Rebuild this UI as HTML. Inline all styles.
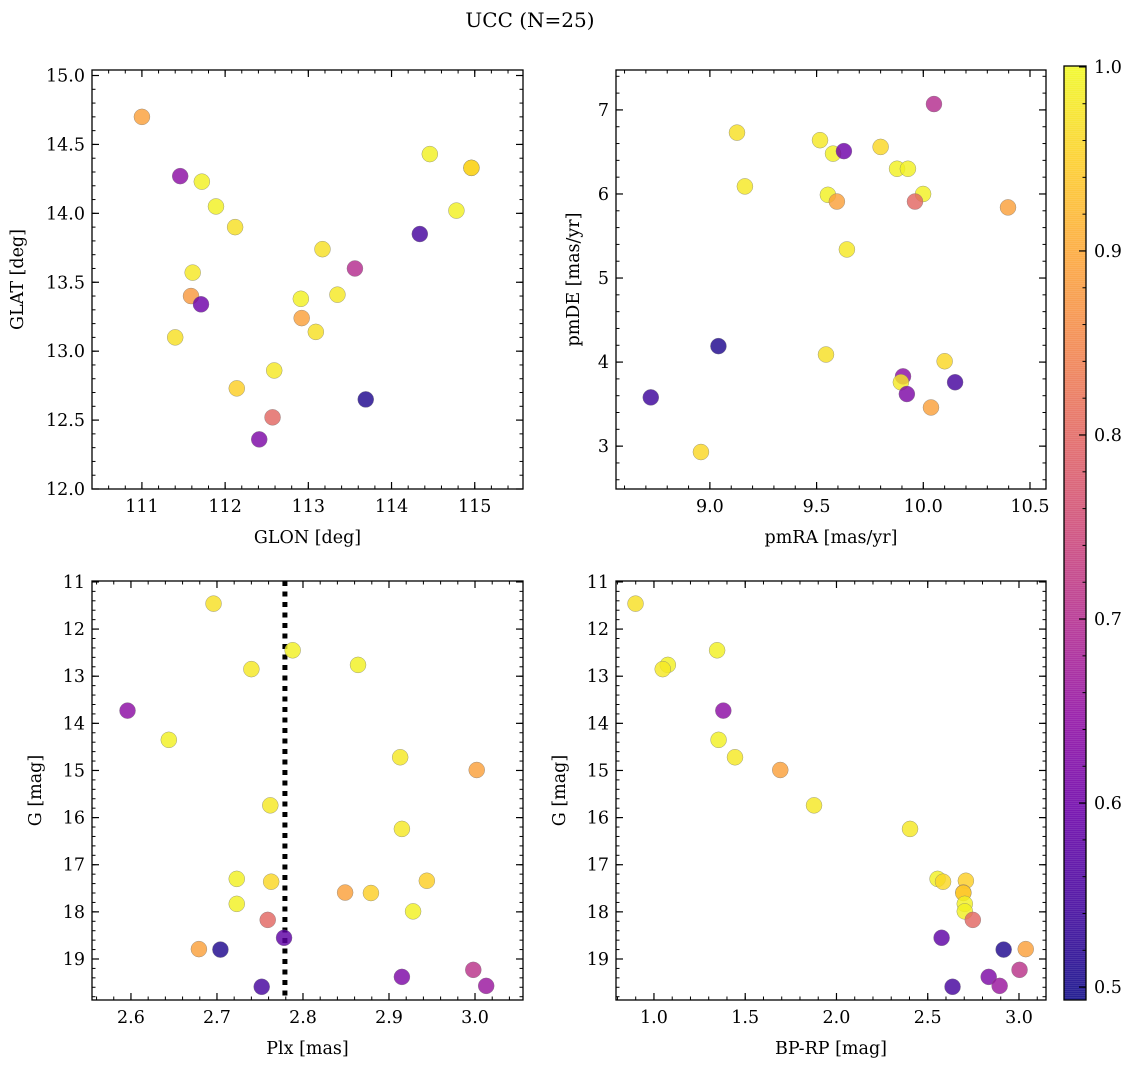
<!DOCTYPE html>
<html><head><meta charset="utf-8"><style>
body{margin:0;background:#fff;}
svg{display:block;font-family:"DejaVu Serif","Liberation Serif",serif;}
</style></head><body>
<svg id="chart" width="1136" height="1067" xmlns="http://www.w3.org/2000/svg">
<rect width="1136" height="1067" fill="#fff"/>
<text x="530" y="27" font-size="20" text-anchor="middle">UCC (N=25)</text>
</svg>
<script>
// Panel 1: GLON vs GLAT
const p1Glon=[111.0,111.46,111.72,111.89,112.12,113.17,113.56,111.61,111.59,111.71,112.91,113.35,112.92,113.09,111.40,112.59,112.14,112.57,112.41,113.69,114.34,114.46,114.96,114.96,114.78];
const p1Glat=[14.70,14.27,14.23,14.05,13.90,13.74,13.60,13.57,13.40,13.34,13.38,13.41,13.24,13.14,13.10,12.86,12.73,12.52,12.36,12.65,13.85,14.43,14.33,14.33,14.02];
const p1Prob=[.89,.64,.99,.99,.97,.97,.70,.98,.88,.60,.99,.98,.89,.97,.97,.98,.95,.80,.62,.51,.55,.99,.94,.96,.99];
// Panel 2: pmRA vs pmDE
const p2PmRA=[10.05,9.127,9.516,9.577,9.628,9.80,9.877,9.928,9.164,9.553,9.999,9.595,9.961,10.397,9.642,9.04,9.544,10.10,9.905,9.895,10.149,9.923,10.036,8.723,8.958];
const p2PmDE=[7.07,6.73,6.64,6.48,6.51,6.56,6.30,6.30,6.09,5.99,6.00,5.91,5.91,5.84,5.34,4.19,4.09,4.01,3.83,3.76,3.76,3.62,3.46,3.58,2.93];
const p2Prob=[.70,.97,.98,.99,.60,.96,.99,.99,.98,.99,.99,.89,.80,.89,.98,.51,.97,.96,.64,.98,.55,.62,.89,.54,.96];
// Panel 3: Plx vs G
const p3Plx=[2.696,2.788,2.740,2.864,2.596,2.644,2.913,3.002,2.762,2.915,2.723,2.763,2.944,2.849,2.879,2.723,2.928,2.759,2.778,2.679,2.704,2.752,2.915,2.998,3.013];
const p3G=[11.46,12.45,12.85,12.76,13.73,14.35,14.72,14.99,15.74,16.24,17.30,17.36,17.34,17.59,17.60,17.83,17.99,18.17,18.55,18.79,18.80,19.59,19.38,19.23,19.57];
const p3Prob=[.97,.99,.98,.99,.64,.99,.98,.89,.98,.98,.99,.96,.95,.89,.95,.99,.99,.80,.58,.89,.51,.55,.62,.71,.66];
const plxLine=[2.779];
// Panel 4: BP-RP vs G
const p4BpRp=[0.899,1.346,1.076,1.048,1.380,1.354,1.444,1.692,1.877,2.403,2.554,2.584,2.709,2.695,2.695,2.703,2.703,2.747,2.576,3.037,2.916,2.636,2.834,3.003,2.894];
const p4G=[11.46,12.45,12.76,12.85,13.73,14.35,14.72,14.99,15.74,16.24,17.30,17.36,17.34,17.59,17.60,17.83,17.99,18.17,18.55,18.79,18.80,19.59,19.38,19.23,19.57];
const p4Prob=[.97,.99,.99,.98,.64,.99,.98,.89,.98,.98,.99,.96,.95,.89,.95,.99,.99,.80,.58,.89,.51,.55,.62,.71,.66];
// Colorbar
const cbTicks=[0.5,0.6,0.7,0.8,0.9,1.0];
const cbMin=0.493, cbMax=1.0005;

const NS="http://www.w3.org/2000/svg";
const svg=document.getElementById('chart');
const TFS=17.5, LFS=17.5;
function mk(tag,attrs,parent){const e=document.createElementNS(NS,tag);for(const k in attrs)e.setAttribute(k,attrs[k]);(parent||svg).appendChild(e);return e;}
const plasma=[[13,8,135],[65,4,157],[106,0,168],[143,13,164],[177,42,144],[204,71,120],[225,100,98],[242,132,75],[252,166,54],[252,206,37],[240,249,33]];
function cmap(v){let t=(v-cbMin)/(cbMax-cbMin);t=Math.max(0,Math.min(1,t))*10;const i=Math.min(9,Math.floor(t));const f=t-i;const a=plasma[i],b=plasma[i+1];
 return 'rgb('+[0,1,2].map(k=>Math.round(a[k]+(b[k]-a[k])*f)).join(',')+')';}

function panel(cfg){
 const g=mk('g',{});
 
 
 const {x0,x1,y0,y1}=cfg.box;
 const sx=v=>x0+(v-cfg.xd[0])/(cfg.xd[1]-cfg.xd[0])*(x1-x0);
 const sy=v=>y1-(v-cfg.yd[0])/(cfg.yd[1]-cfg.yd[0])*(y1-y0);
 const xmin=Math.min(...cfg.xd),xmax=Math.max(...cfg.xd),ymin=Math.min(...cfg.yd),ymax=Math.max(...cfg.yd);
 for(let v=Math.ceil(xmin/cfg.xminor-1e-6)*cfg.xminor;v<=xmax;v+=cfg.xminor){const x=sx(v);
  mk('line',{x1:x,x2:x,y1:y1,y2:y1-3.5,stroke:'#000','stroke-width':1},g);mk('line',{x1:x,x2:x,y1:y0,y2:y0+3.5,stroke:'#000','stroke-width':1},g);}
 for(let v=Math.ceil(ymin/cfg.yminor-1e-6)*cfg.yminor;v<=ymax;v+=cfg.yminor){const y=sy(v);
  mk('line',{x1:x0,x2:x0+3.5,y1:y,y2:y,stroke:'#000','stroke-width':1},g);mk('line',{x1:x1,x2:x1-3.5,y1:y,y2:y,stroke:'#000','stroke-width':1},g);}
 cfg.xt.forEach((v,i)=>{const x=sx(v);
  mk('line',{x1:x,x2:x,y1:y1,y2:y1-7,stroke:'#000','stroke-width':1.2},g);mk('line',{x1:x,x2:x,y1:y0,y2:y0+7,stroke:'#000','stroke-width':1.2},g);
  const t=mk('text',{x:x,y:y1+23,'font-size':TFS,'text-anchor':'middle'},g);t.textContent=cfg.xl[i];
  
  });
 cfg.yt.forEach((v,i)=>{const y=sy(v);
  mk('line',{x1:x0,x2:x0+7,y1:y,y2:y,stroke:'#000','stroke-width':1.2},g);mk('line',{x1:x1,x2:x1-7,y1:y,y2:y,stroke:'#000','stroke-width':1.2},g);
  const t=mk('text',{x:x0-7,y:y+6,'font-size':TFS,'text-anchor':'end'},g);t.textContent=cfg.yl[i];
  
  });
 if(cfg.vline){cfg.vline.forEach(v=>{const l=mk('line',{x1:sx(v),x2:sx(v),y1:y0,y2:y1,stroke:'#000','stroke-width':5,'stroke-dasharray':'5 5.5'},g);
  
  });}
 cfg.xs.forEach((xv,i)=>{const c=mk('circle',{cx:sx(xv),cy:sy(cfg.ys[i]),r:8,fill:cmap(cfg.c[i]),'fill-opacity':0.82,stroke:'#777','stroke-width':0.5,'stroke-opacity':0.7},g);
  
  });
 const fr=mk('rect',{x:x0,y:y0,width:x1-x0,height:y1-y0,fill:'none',stroke:'#000','stroke-width':1.3},g);
 
 
 const xl=mk('text',{x:(x0+x1)/2,y:y1+54,'font-size':LFS,'text-anchor':'middle'},g);xl.textContent=cfg.xlabel;
 
 
 const yx=cfg.ylabelX,yy=(y0+y1)/2;
 const yl=mk('text',{x:yx,y:yy,'font-size':LFS,'text-anchor':'middle',transform:`rotate(-90 ${yx} ${yy})`},g);yl.textContent=cfg.ylabel;
 
 
}
panel({name:'glon-glat-panel',box:{x0:92,x1:523,y0:70,y1:489},xd:[110.4,115.58],yd:[12.0,15.04],
 xt:[111,112,113,114,115],xl:['111','112','113','114','115'],yt:[12,12.5,13,13.5,14,14.5,15],yl:['12.0','12.5','13.0','13.5','14.0','14.5','15.0'],
 xminor:0.2,yminor:0.1,xs:p1Glon,ys:p1Glat,c:p1Prob,xlabel:'GLON [deg]',ylabel:'GLAT [deg]',ylabelX:23});
panel({name:'pm-panel',box:{x0:616,x1:1046,y0:70,y1:489},xd:[8.56,10.575],yd:[2.49,7.475],
 xt:[9,9.5,10,10.5],xl:['9.0','9.5','10.0','10.5'],yt:[3,4,5,6,7],yl:['3','4','5','6','7'],
 xminor:0.1,yminor:0.2,xs:p2PmRA,ys:p2PmDE,c:p2Prob,xlabel:'pmRA [mas/yr]',ylabel:'pmDE [mas/yr]',ylabelX:579});
panel({name:'plx-g-panel',box:{x0:92,x1:523,y0:581,y1:1000},xd:[2.5547,3.0558],yd:[19.87,10.98],
 xt:[2.6,2.7,2.8,2.9,3.0],xl:['2.6','2.7','2.8','2.9','3.0'],yt:[11,12,13,14,15,16,17,18,19],yl:['11','12','13','14','15','16','17','18','19'],
 xminor:0.02,yminor:0.2,xs:p3Plx,ys:p3G,c:p3Prob,vline:plxLine,xlabel:'Plx [mas]',ylabel:'G [mag]',ylabelX:41});
panel({name:'cmd-panel',box:{x0:616,x1:1046,y0:581,y1:1000},xd:[0.792,3.148],yd:[19.87,10.98],
 xt:[1,1.5,2,2.5,3],xl:['1.0','1.5','2.0','2.5','3.0'],yt:[11,12,13,14,15,16,17,18,19],yl:['11','12','13','14','15','16','17','18','19'],
 xminor:0.1,yminor:0.2,xs:p4BpRp,ys:p4G,c:p4Prob,xlabel:'BP-RP [mag]',ylabel:'G [mag]',ylabelX:565});
(function(){
 const g=mk('g',{});
 
 
 const cx0=1064,cx1=1086,cy0=66,cy1=1000;
 const sy=v=>cy1-(v-cbMin)/(cbMax-cbMin)*(cy1-cy0);
 for(let y=cy0;y<cy1;y+=2){const v=cbMin+(cy1-y-1)/(cy1-cy0)*(cbMax-cbMin);
  mk('rect',{x:cx0,y:y,width:cx1-cx0,height:2.5,fill:cmap(v),'fill-opacity':0.82},g);}
 for(let v=0.5;v<=1.0001;v+=0.02){const y=sy(v);mk('line',{x1:cx1,x2:cx1-3.5,y1:y,y2:y,stroke:'#000','stroke-width':1},g);}
 cbTicks.forEach(v=>{const y=sy(v);mk('line',{x1:cx1,x2:cx1-7,y1:y,y2:y,stroke:'#000','stroke-width':1.2},g);
  const t=mk('text',{x:cx1+8,y:y+6,'font-size':TFS},g);t.textContent=v.toFixed(1);
  
  });
 mk('rect',{x:cx0,y:cy0,width:cx1-cx0,height:cy1-cy0,fill:'none',stroke:'#000','stroke-width':1.3},g);
})();
</script>
</body></html>
